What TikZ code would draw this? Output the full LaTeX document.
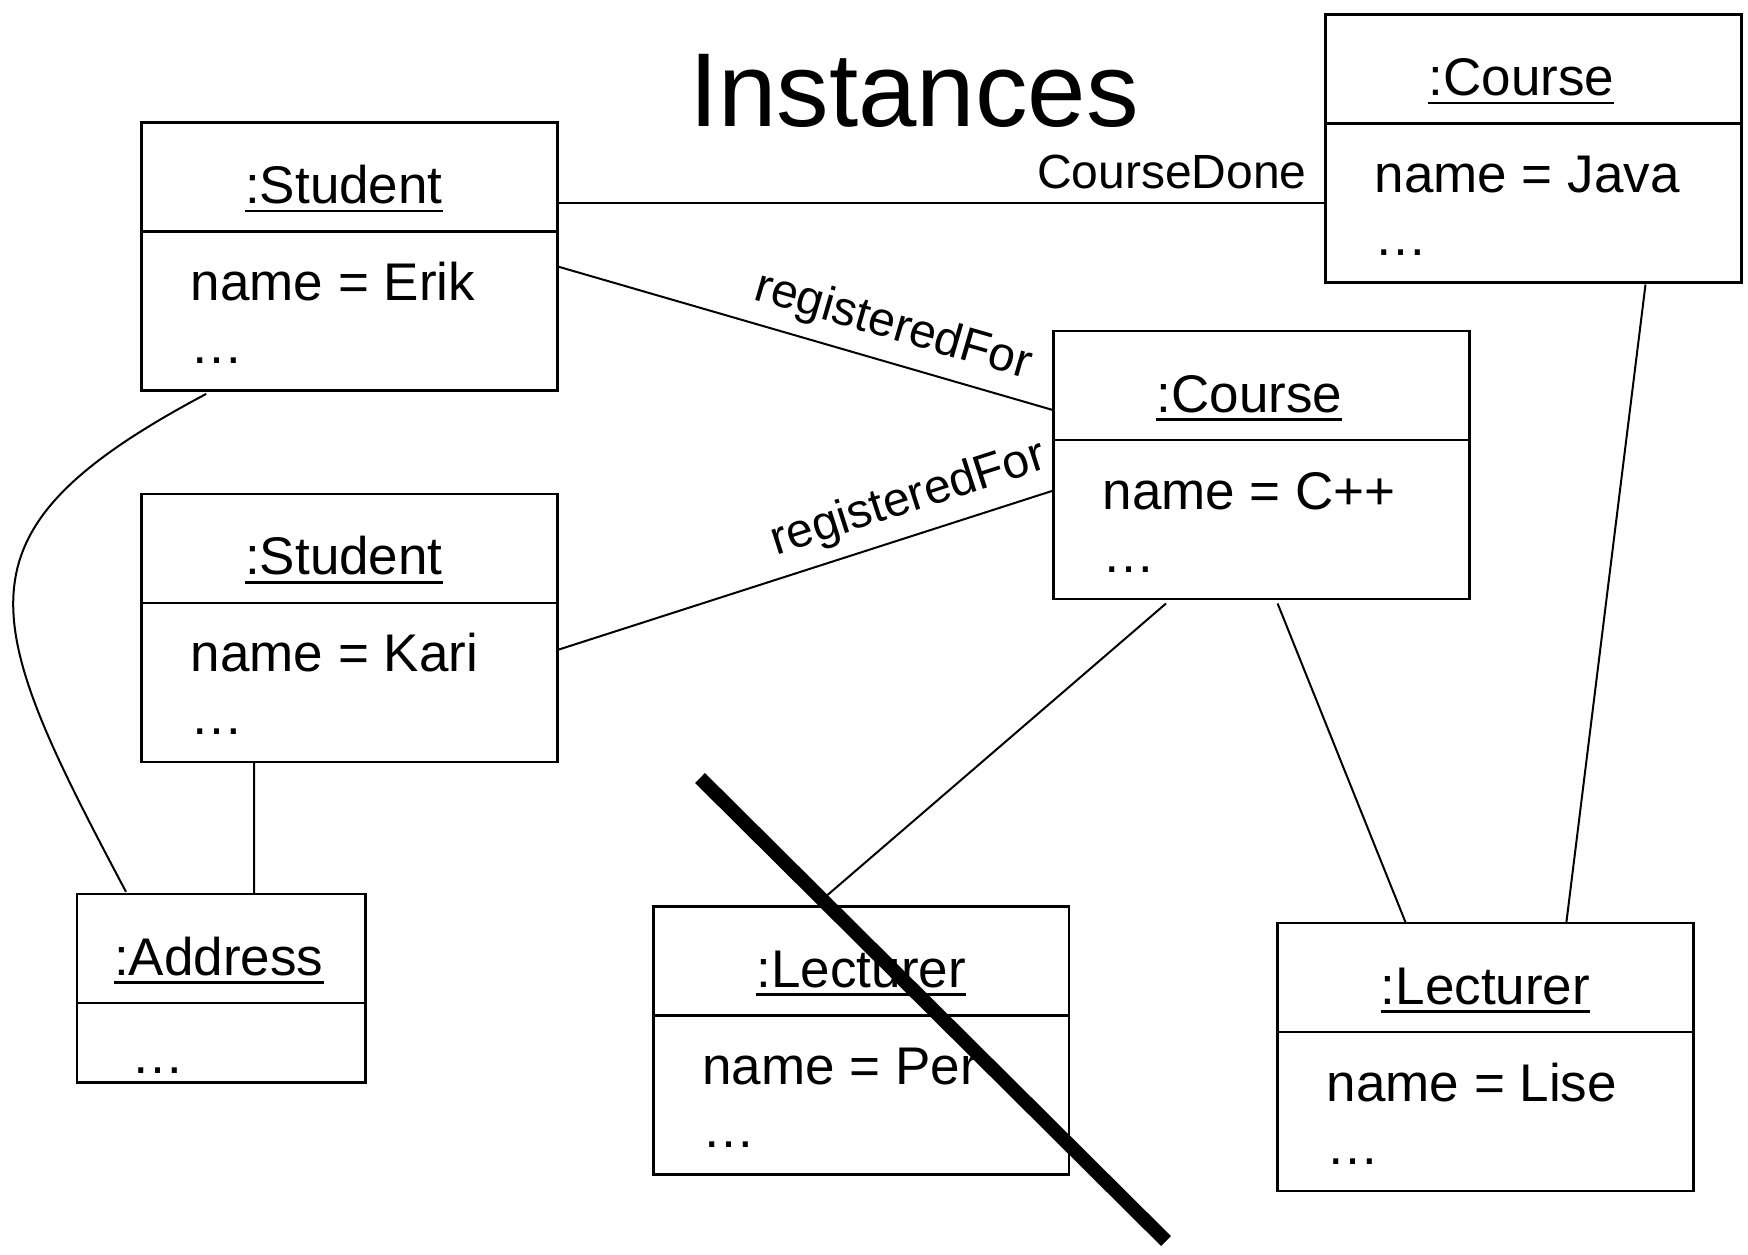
\documentclass[tikz,border=0pt]{standalone}
\usepackage{fontspec}
\setmainfont{Liberation Sans}
\usetikzlibrary{calc}
\tikzset{
  objbox/.style={draw, line width=2.7pt, rectangle, inner sep=0pt, outer sep=0pt,
    minimum width=415.8pt, minimum height=268pt, anchor=north west},
  boxline/.style={line width=2.7pt},
  objtitle/.style={inner sep=0pt, anchor=base, font=\fontsize{53}{60}\selectfont},
  attr/.style={inner sep=0pt, anchor=base west, font=\fontsize{53}{60}\selectfont},
  uline/.style={line width=2.7pt},
  assoc/.style={line width=2pt},
  lbl/.style={font=\fontsize{48}{56}\selectfont, inner sep=12pt},
  cross/.style={line width=14pt},
  bigtitle/.style={inner sep=0pt, anchor=base, font=\fontsize{105}{115}\selectfont},
}
\newcommand\umlobj[6]{%
  \node[objbox] (#1) at (#2,#3) {};
  \draw[boxline] ([yshift=-109pt]#1.north west) -- ([yshift=-109pt]#1.north east);
  \node[objtitle] (#1t) at ([xshift=#6,yshift=-81pt]#1.north) {#4};
  \draw[uline] ([yshift=-7.5pt]#1t.base west) -- ([yshift=-7.5pt]#1t.base east);
  \node[attr] (#1n) at ([xshift=49pt,yshift=-178pt]#1.north west) {#5};
  \node[attr] (#1d) at ([xshift=49pt,yshift=-241pt]#1.north west) {…};
}
\begin{document}
\begin{tikzpicture}[x=1pt,y=-1pt]
\path[use as bounding box, fill=white] (0,0) rectangle (1748,1255);

\node[bigtitle] (title) at (914,126) {Instances};

\umlobj{s1}{141.6}{122.6}{:Student}{name = Erik}{-5.6pt}
\umlobj{s2}{141.6}{493.9}{:Student}{name = Kari}{-5.6pt}
\umlobj{cj}{1325.5}{14.5}{:Course}{name = Java}{-12pt}
\umlobj{cc}{1053.5}{331}{:Course}{name = C++}{-12pt}
\umlobj{lp}{653.3}{906.3}{:Lecturer}{name = Per}{0pt}
\umlobj{ll}{1277.6}{923}{:Lecturer}{name = Lise}{0pt}

% Address box
\node[objbox, minimum width=288.8pt, minimum height=188.5pt] (ad) at (76.9,894) {};
\draw[boxline] ([yshift=-109pt]ad.north west) -- ([yshift=-109pt]ad.north east);
\node[objtitle] (adt) at ([xshift=-2.5pt,yshift=-81pt]ad.north) {:Address};
\draw[uline] ([yshift=-7.5pt]adt.base west) -- ([yshift=-7.5pt]adt.base east);
\node[attr] (add) at ([xshift=54pt,yshift=-179pt]ad.north west) {…};

% connectors
\draw[assoc] ([yshift=-80.4pt]s1.north east) -- ([yshift=-188.5pt]cj.north west)
  node[at end, anchor=base east, inner sep=0pt, xshift=-18pt, yshift=15pt,
       font=\fontsize{48}{56}\selectfont] (cdl) {CourseDone};
\draw[assoc] ([yshift=-143.8pt]s1.north east) -- ([yshift=-79.2pt]cc.north west)
  node[lbl, pos=0.657, sloped, above] (rf1) {registeredFor};
\draw[assoc] ([yshift=-156.1pt]s2.north east) -- ([yshift=-159.5pt]cc.north west)
  node[lbl, pos=0.73, sloped, above] (rf2) {registeredFor};
\draw[assoc] ([xshift=64.6pt,yshift=-3.3pt]s1.south west)
  .. controls (-53.5,531.8) and (-20.6,615.4) .. ([xshift=49.1pt,yshift=2.2pt]ad.north west);
\draw[assoc] ([xshift=112.6pt]s2.south west) -- ([xshift=177.3pt]ad.north west);
\draw[assoc] ([xshift=112.5pt,yshift=-4.5pt]cc.south west) -- ([xshift=172.7pt,yshift=10pt]lp.north west);
\draw[assoc] ([xshift=224.1pt,yshift=-4.5pt]cc.south west) -- ([xshift=128.2pt]ll.north west);
\draw[assoc] ([xshift=320pt,yshift=-2pt]cj.south west) -- ([xshift=288.7pt]ll.north west);

% cross-out
\draw[cross] (700,778) -- (1166,1241);
\end{tikzpicture}
\end{document}
